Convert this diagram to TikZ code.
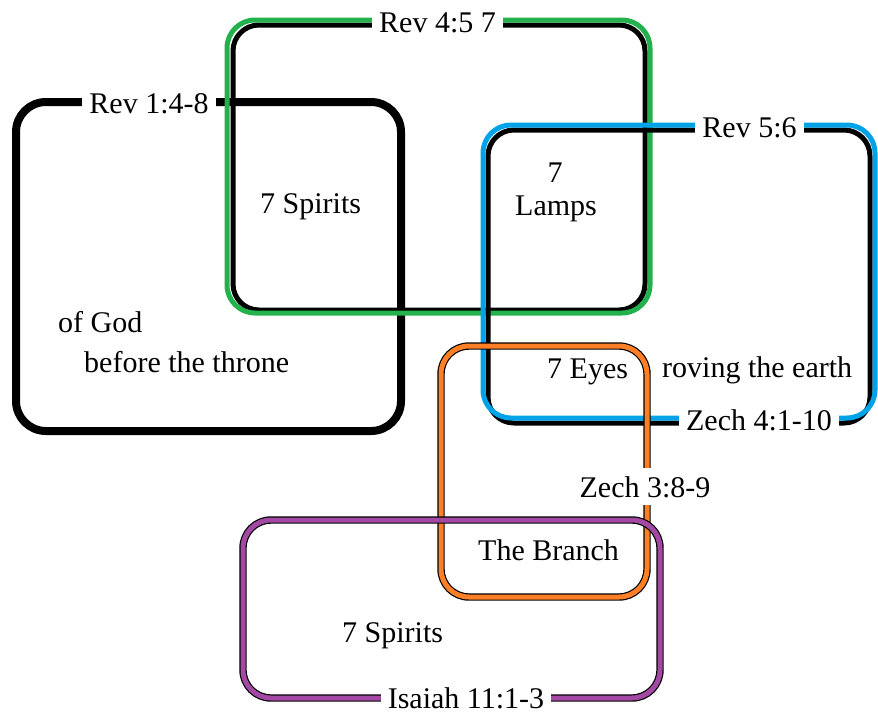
\documentclass[tikz,border=0pt]{standalone}
\usepackage{fontspec}
\setmainfont{Liberation Serif}
\definecolor{grnc}{HTML}{22B14C}
\definecolor{bluc}{HTML}{00A2E8}
\definecolor{ornc}{HTML}{FF7F27}
\definecolor{purc}{HTML}{A349A4}
\begin{document}
\begin{tikzpicture}[x=1pt,y=-1pt,
  font=\fontsize{30}{36}\selectfont,
  boxshape/.style={rectangle, inner sep=0pt, rounded corners=28pt},
  shadowline/.style={draw=black, line width=5pt, rounded corners=26pt},
  lbl/.style={fill=white, inner xsep=7pt, inner ysep=3pt, anchor=base},
  txt/.style={inner sep=0pt, anchor=base west}]
\useasboundingbox (0,0) rectangle (878,713);
% black box
\node[boxshape, draw=black, line width=8pt, rounded corners=30pt,
      minimum width=385pt, minimum height=329pt] (blk) at (208.5,266.5) {};
% green box
\draw[shadowline] (233,25) rectangle (645,310);
\node[boxshape, draw=grnc, line width=5pt,
      minimum width=423pt, minimum height=293pt] (grn) at (438.5,166.5) {};
% blue box
\draw[shadowline] (488,130) rectangle (870,423);
\node[boxshape, draw=bluc, line width=5pt,
      minimum width=392pt, minimum height=293pt] (blu) at (679,271.5) {};
% orange box
\node[boxshape, draw=black, line width=1.2pt, double=ornc, double distance=5pt,
      minimum width=206pt, minimum height=251pt] (orn) at (544,471.5) {};
% purple box
\node[boxshape, draw=black, line width=1.2pt, double=purc, double distance=5pt,
      minimum width=417pt, minimum height=178pt] (pur) at (451.5,609) {};
% labels on the outlines
\node[lbl] (lrev1) at (149,113) {Rev 1:4-8};
\node[lbl] (lrev4) at (437.5,32) {Rev 4:5 7};
\node[lbl] (lrev5) at (749.5,137) {Rev 5:6};
\node[lbl] (lzech4) at (759,430) {Zech 4:1-10};
\node[lbl, inner ysep=8pt] (lzech3) at (645,497) {Zech 3:8-9};
\node[lbl] (lisa) at (466,708) {Isaiah 11:1-3};
% inner texts
\node[txt] (sp1) at (260,213) {7 Spirits};
\node[txt, anchor=base] (seven) at (555,182) {7};
\node[txt] (lamps) at (515,215) {Lamps};
\node[txt] (ofgod) at (58,332) {of God};
\node[txt] (throne) at (84,372) {before the throne};
\node[txt] (eyes) at (547,378) {7 Eyes};
\node[txt] (roving) at (662,377) {roving the earth};
\node[txt] (branch) at (478,560) {The Branch};
\node[txt] (sp2) at (342,642) {7 Spirits};
\end{tikzpicture}
\end{document}
